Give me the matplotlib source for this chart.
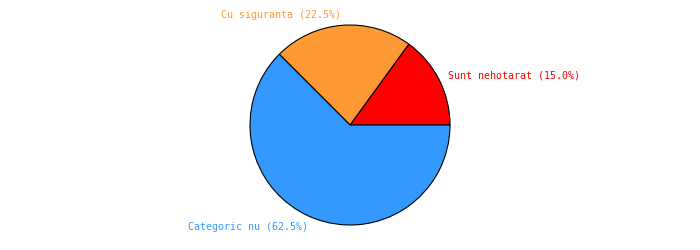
import matplotlib
matplotlib.use("Agg")
import matplotlib.pyplot as plt

categories = ["Sunt nehotarat", "Cu siguranta", "Categoric nu"]
values = [15.0, 22.5, 62.5]
colors = ["#FF0000", "#FF9933", "#3399FF"]

labels = [f"{c} ({v:.1f}%)" for c, v in zip(categories, values)]

fig = plt.figure(figsize=(7, 2.5), dpi=100)
ax = fig.add_axes([0, 0, 1, 1])
wedges, texts = ax.pie(values, labels=labels, colors=colors, startangle=0,
                       counterclock=True, labeldistance=1.1,
                       wedgeprops=dict(edgecolor="black", linewidth=0.8),
                       textprops=dict(family="DejaVu Sans Mono", fontsize=7.2))
for t, c in zip(texts, colors):
    t.set_color(c)
ax.set_xlim(-3.5, 3.5)
ax.set_ylim(-1.25, 1.25)
ax.set_aspect("equal")
ax.axis("off")
fig.savefig("out.png", dpi=100)
